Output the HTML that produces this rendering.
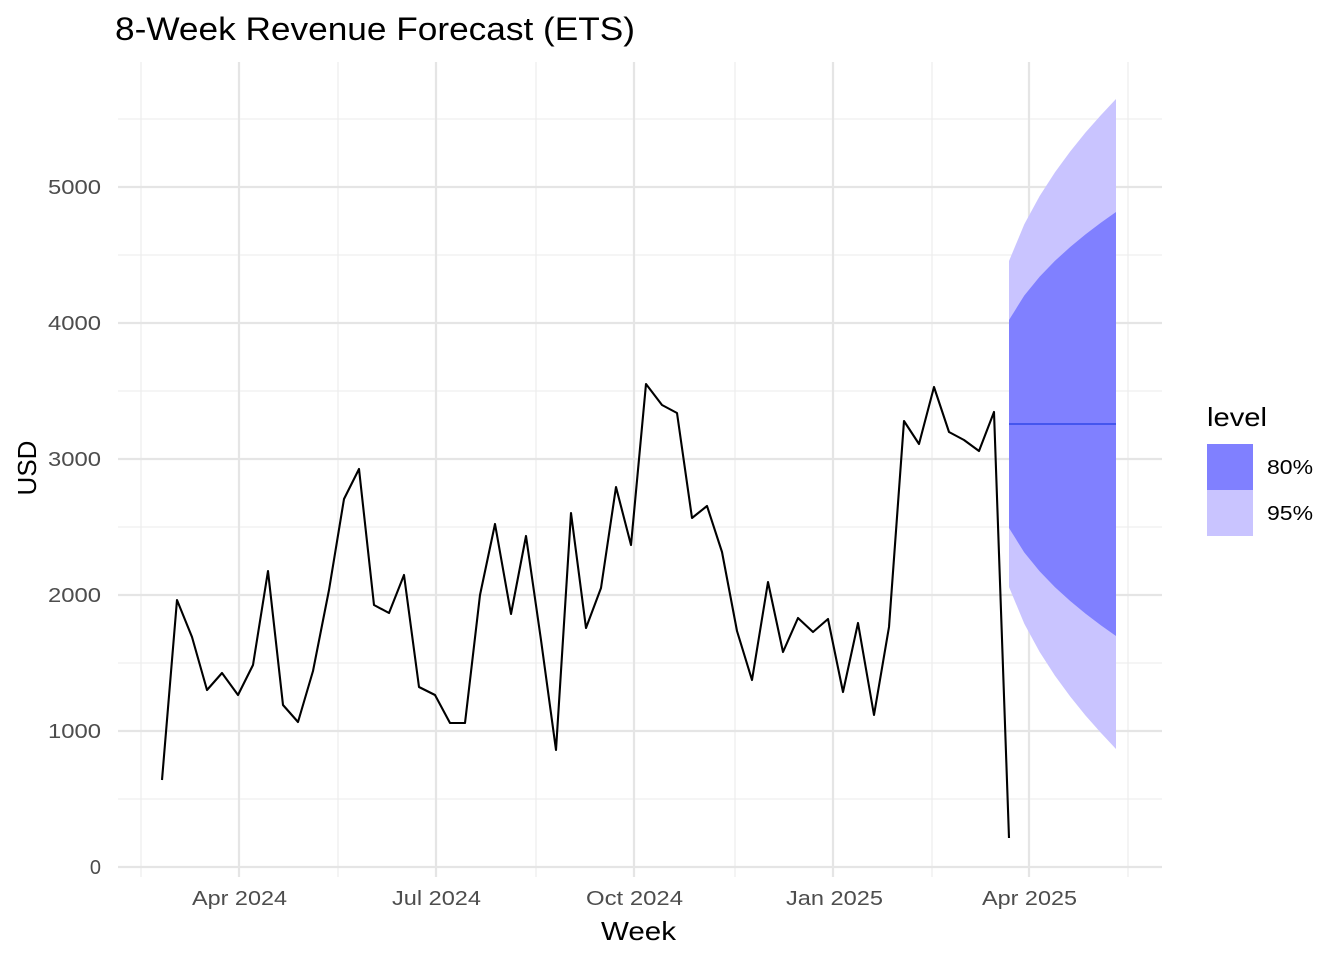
<!DOCTYPE html>
<html><head><meta charset="utf-8"><style>body{margin:0;background:#fff}svg{display:block;font-family:"Liberation Sans",Arial,sans-serif}</style></head>
<body>
<svg width="1344" height="960" viewBox="0 0 1344 960" xmlns="http://www.w3.org/2000/svg">
<rect width="1344" height="960" fill="#fff"/>
<g stroke="#ebebeb" stroke-width="1.1">
<line x1="118" x2="1162" y1="799" y2="799"/><line x1="118" x2="1162" y1="663" y2="663"/><line x1="118" x2="1162" y1="527" y2="527"/><line x1="118" x2="1162" y1="391" y2="391"/><line x1="118" x2="1162" y1="255" y2="255"/><line x1="118" x2="1162" y1="119" y2="119"/>
<line y1="62" y2="877" x1="141" x2="141"/><line y1="62" y2="877" x1="338" x2="338"/><line y1="62" y2="877" x1="536" x2="536"/><line y1="62" y2="877" x1="735" x2="735"/><line y1="62" y2="877" x1="932" x2="932"/><line y1="62" y2="877" x1="1128" x2="1128"/>
</g>
<g stroke="#e5e5e5" stroke-width="2.2">
<line x1="118" x2="1162" y1="867" y2="867"/><line x1="118" x2="1162" y1="731" y2="731"/><line x1="118" x2="1162" y1="595" y2="595"/><line x1="118" x2="1162" y1="459" y2="459"/><line x1="118" x2="1162" y1="323" y2="323"/><line x1="118" x2="1162" y1="187" y2="187"/>
<line y1="62" y2="877" x1="239" x2="239"/><line y1="62" y2="877" x1="436" x2="436"/><line y1="62" y2="877" x1="634" x2="634"/><line y1="62" y2="877" x1="833" x2="833"/><line y1="62" y2="877" x1="1029" x2="1029"/>
</g>
<polygon fill="#c9c4ff" points="1009,261 1024.3,224.3 1039.6,196.1 1054.9,172.4 1070.2,151.5 1085.5,132.5 1100.8,115.2 1116,99 1116,749 1100.8,732.8 1085.5,715.5 1070.2,696.5 1054.9,675.6 1039.6,651.9 1024.3,623.7 1009,587"/>
<polygon fill="#8080ff" points="1009,320 1024.3,295.5 1039.6,276.8 1054.9,260.9 1070.2,247 1085.5,234.4 1100.8,222.8 1116,212 1116,636 1100.8,625.2 1085.5,613.6 1070.2,601 1054.9,587.1 1039.6,571.2 1024.3,552.5 1009,528"/>
<line x1="1009" x2="1116" y1="424" y2="424" stroke="#4455ee" stroke-width="2"/>
<polyline fill="none" stroke="#000" stroke-width="2.1" stroke-linejoin="round" points="162,780 177,600 192,637 207,690 222,673 238,695 253,665 268,571 283,705 298,722 313,671 329,590 344,499 359,469 374,605 389,613 404,575 419,687 435,695 450,723 465,723 480,595 495,524 511,614 526,536 541,640 556,750 571,513 586,628 601,588 616,487 631,545 646,384 662,405 677,413 692,518 707,506 722,552 737,631 752,680 768,582 783,652 798,618 813,632 828,619 843,692 858,623 874,715 889,627 904,421 919,444 934,387 949,432 964,440 979,451 994,412 1009,838"/>
<g font-size="20" fill="#4d4d4d" text-anchor="end" lengthAdjust="spacingAndGlyphs">
<text x="101" y="874">0</text>
<text x="101" y="738" textLength="53" lengthAdjust="spacingAndGlyphs">1000</text>
<text x="101" y="602" textLength="53" lengthAdjust="spacingAndGlyphs">2000</text>
<text x="101" y="466" textLength="53" lengthAdjust="spacingAndGlyphs">3000</text>
<text x="101" y="330" textLength="53" lengthAdjust="spacingAndGlyphs">4000</text>
<text x="101" y="194" textLength="53" lengthAdjust="spacingAndGlyphs">5000</text>
</g>
<g font-size="20" fill="#4d4d4d">
<text x="192" y="905" textLength="95" lengthAdjust="spacingAndGlyphs">Apr 2024</text>
<text x="392" y="905" textLength="89" lengthAdjust="spacingAndGlyphs">Jul 2024</text>
<text x="586" y="905" textLength="97" lengthAdjust="spacingAndGlyphs">Oct 2024</text>
<text x="786" y="905" textLength="97" lengthAdjust="spacingAndGlyphs">Jan 2025</text>
<text x="982" y="905" textLength="95" lengthAdjust="spacingAndGlyphs">Apr 2025</text>
</g>
<text x="601" y="940" font-size="26" textLength="75" lengthAdjust="spacingAndGlyphs">Week</text>
<text transform="translate(36,468) rotate(-90)" font-size="26" text-anchor="middle">USD</text>
<text x="115" y="40" font-size="32" textLength="520" lengthAdjust="spacingAndGlyphs">8-Week Revenue Forecast (ETS)</text>
<text x="1207" y="426" font-size="26" textLength="60" lengthAdjust="spacingAndGlyphs">level</text>
<rect x="1207" y="444" width="46" height="46" fill="#8080ff"/>
<rect x="1207" y="490" width="46" height="46" fill="#c9c4ff"/>
<text x="1267" y="474" font-size="20" textLength="46" lengthAdjust="spacingAndGlyphs">80%</text>
<text x="1267" y="520" font-size="20" textLength="46" lengthAdjust="spacingAndGlyphs">95%</text>
</svg>
</body></html>
